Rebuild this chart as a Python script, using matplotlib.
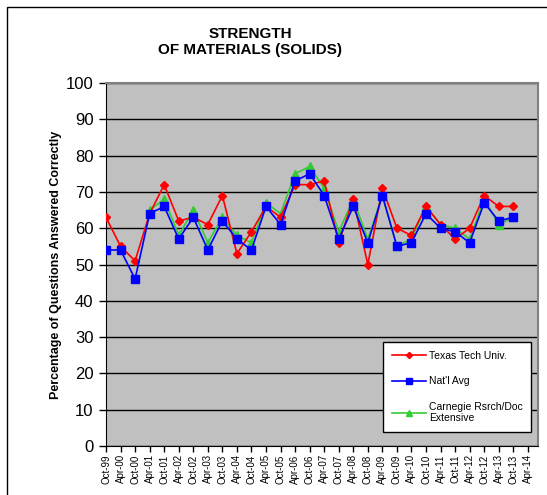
import matplotlib.pyplot as plt
from matplotlib.patches import Rectangle
import numpy as np

plt.rcParams.update({'font.family': 'Liberation Sans'})

nan = np.nan
dates = ['Oct-99', 'Apr-00', 'Oct-00', 'Apr-01', 'Oct-01', 'Apr-02', 'Oct-02', 'Apr-03',
         'Oct-03', 'Apr-04', 'Oct-04', 'Apr-05', 'Oct-05', 'Apr-06', 'Oct-06', 'Apr-07',
         'Oct-07', 'Apr-08', 'Oct-08', 'Apr-09', 'Oct-09', 'Apr-10', 'Oct-10', 'Apr-11',
         'Oct-11', 'Apr-12', 'Oct-12', 'Apr-13', 'Oct-13', 'Apr-14']
texas_tech = [63, 55, 51, 64, 72, 62, 63, 61, 69, 53, 59, 66, 63, 72, 72, 73,
              56, 68, 50, 71, 60, 58, 66, 61, 57, 60, 69, 66, 66, nan]
natl_avg = [54, 54, 46, 64, 66, 57, 63, 54, 62, 57, 54, 66, 61, 73, 75, 69,
            57, 66, 56, 69, 55, 56, 64, 60, 59, 56, 67, 62, 63, nan]
carnegie = [nan, nan, nan, 65, 68, 58, 65, 56, 63, 58, 56, 67, 64, 75, 77, 71,
            59, 68, 57, 69, 55, 57, 66, 61, 60, 57, 68, 61, 63, nan]

W, H = 547, 495
fig = plt.figure(figsize=(W / 100, H / 100), dpi=100)
ax = fig.add_axes([106 / W, 1 - 446 / H, (538 - 106) / W, (446 - 83) / H])
ax.set_facecolor('#c0c0c0')

# outer chart frame
fig.patches.append(Rectangle((7 / W, -0.02), 1.0, 1 - 7 / H + 0.02, transform=fig.transFigure,
                             fill=False, edgecolor='black', linewidth=1.0))

x = np.arange(len(dates))
ax.plot(x, texas_tech, color='#ff0000', marker='D', ms=4.5, lw=1.2, label='Texas Tech Univ.', zorder=3)
ax.plot(x, natl_avg, color='#0000ff', marker='s', ms=6, lw=1.2, label="Nat'l Avg", zorder=4)
ax.plot(x, carnegie, color='#33cc33', marker='^', ms=6, lw=1.2,
        label='Carnegie Rsrch/Doc\nExtensive', zorder=2)

ax.set_ylim(0, 100)
ax.set_xlim(0, 29.7)
ax.set_yticks(range(0, 101, 10))
ax.set_xticks(x)
ax.set_xticklabels(dates, rotation=90, fontsize=7)
ax.tick_params(axis='y', labelsize=12, length=5, width=1, direction='out', pad=4)
ax.tick_params(axis='x', length=4, width=1, direction='out', pad=2)
ax.grid(axis='y', color='black', lw=1)
ax.set_axisbelow(True)
for s in ['top', 'right']:
    ax.spines[s].set_color('#808080')
    ax.spines[s].set_linewidth(1.5)

ax.set_ylabel('Percentage of Questions Answered Correctly', fontsize=9, fontweight='bold', labelpad=3)

fig.text(250 / W, 1 - 42 / H, 'STRENGTH\nOF MATERIALS (SOLIDS)', ha='center', va='center',
         fontsize=11, fontweight='bold', linespacing=1.25)

leg = ax.legend(loc='upper left', bbox_to_anchor=(378 / W, 1 - 337 / H), bbox_transform=fig.transFigure,
                fontsize=7.5, frameon=True, fancybox=False, edgecolor='black', framealpha=1,
                labelspacing=1.5, handlelength=3.3, handletextpad=0.3, borderpad=0.8, markerscale=0.7)
leg.get_frame().set_linewidth(1.0)
leg.set_zorder(10)

fig.savefig('out.png', dpi=100)
